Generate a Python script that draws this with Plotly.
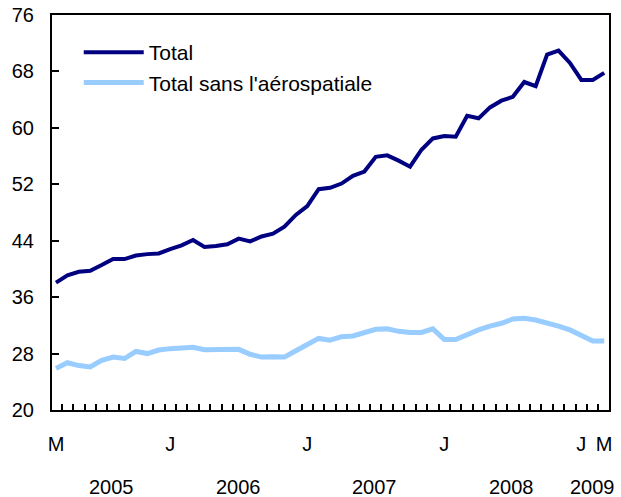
import plotly.graph_objects as go

# Monthly data, March 2005 to March 2009 (49 months)
total = [38.05, 39.1, 39.6, 39.75, 40.55, 41.4, 41.4, 41.9, 42.1, 42.2,
         42.8, 43.35, 44.1, 43.1, 43.25, 43.5, 44.3, 43.9, 44.6, 45.0,
         46.0, 47.65, 48.9, 51.3, 51.5, 52.1, 53.2, 53.8, 55.9, 56.1,
         55.35, 54.5, 56.9, 58.5, 58.85, 58.75, 61.7, 61.35, 62.9, 63.85,
         64.4, 66.5, 65.9, 70.4, 70.95, 69.2, 66.8, 66.8, 67.8]
sans_aero = [25.9, 26.7, 26.3, 26.1, 27.05, 27.5, 27.3, 28.3, 28.0, 28.5,
             28.7, 28.75, 28.9, 28.55, 28.55, 28.5, 28.6, 27.9, 27.5, 27.55,
             27.5, 28.4, 29.35, 30.15, 29.9, 30.4, 30.5, 30.9, 31.45, 31.5,
             31.15, 31.0, 31.0, 31.5, 30.0, 30.0, 30.7, 31.35, 31.9, 32.3,
             32.9, 33.0, 32.75, 32.4, 31.9, 31.35, 30.65, 29.8, 29.8]
months = list(range(len(total)))

month_tick_pos = [0, 10, 22, 34, 46, 48]
month_tick_text = ["M", "J", "J", "J", "J", "M"]
year_labels = ["2005", "2006", "2007", "2008", "2009"]
year_pos = [4.9, 16.0, 27.9, 39.9, 47.0]
y_ticks = [20, 28, 36, 44, 52, 60, 68, 76]

FONT = "Liberation Sans, Arial, sans-serif"

fig = go.Figure()
fig.add_trace(go.Scatter(x=months, y=total, mode="lines", name="Total",
                         line=dict(color="#000080", width=4)))
fig.add_trace(go.Scatter(x=months, y=sans_aero, mode="lines",
                         name="Total sans l'aérospatiale",
                         line=dict(color="#99CCFF", width=5)))

for yr, xp in zip(year_labels, year_pos):
    fig.add_annotation(x=xp, y=-0.195, xref="x", yref="paper", text=yr,
                       showarrow=False, xanchor="center", yanchor="middle",
                       font=dict(size=20, color="black", family=FONT))

fig.update_layout(
    width=621, height=497,
    margin=dict(l=52, r=12, t=15, b=87),
    paper_bgcolor="white", plot_bgcolor="white",
    font=dict(family=FONT, size=20, color="black"),
    showlegend=True,
    legend=dict(x=0.048, y=0.957, xanchor="left", yanchor="top",
                bgcolor="rgba(0,0,0,0)", font=dict(size=21),
                itemwidth=60, tracegroupgap=0),
    xaxis=dict(range=[-0.35, 48.42], showgrid=False, zeroline=False,
               automargin=False,
               showline=True, linecolor="black", linewidth=2, mirror=True,
               tickmode="array", tickvals=month_tick_pos,
               ticktext=month_tick_text, ticks="", ticklabelstandoff=15,
               minor=dict(tickmode="linear", tick0=0.5, dtick=1,
                          ticks="inside", ticklen=6, tickwidth=1.5,
                          tickcolor="black", showgrid=False)),
    yaxis=dict(range=[20, 76], showgrid=False, zeroline=False,
               automargin=False,
               showline=True, linecolor="black", linewidth=2, mirror=True,
               tickmode="array", tickvals=y_ticks, ticks="inside",
               ticklen=7, tickwidth=2, tickcolor="black",
               ticklabelstandoff=12),
)

fig.write_html("out.html", config={"displayModeBar": False},
               post_script="document.body.style.margin='0';document.body.style.overflow='hidden';")
